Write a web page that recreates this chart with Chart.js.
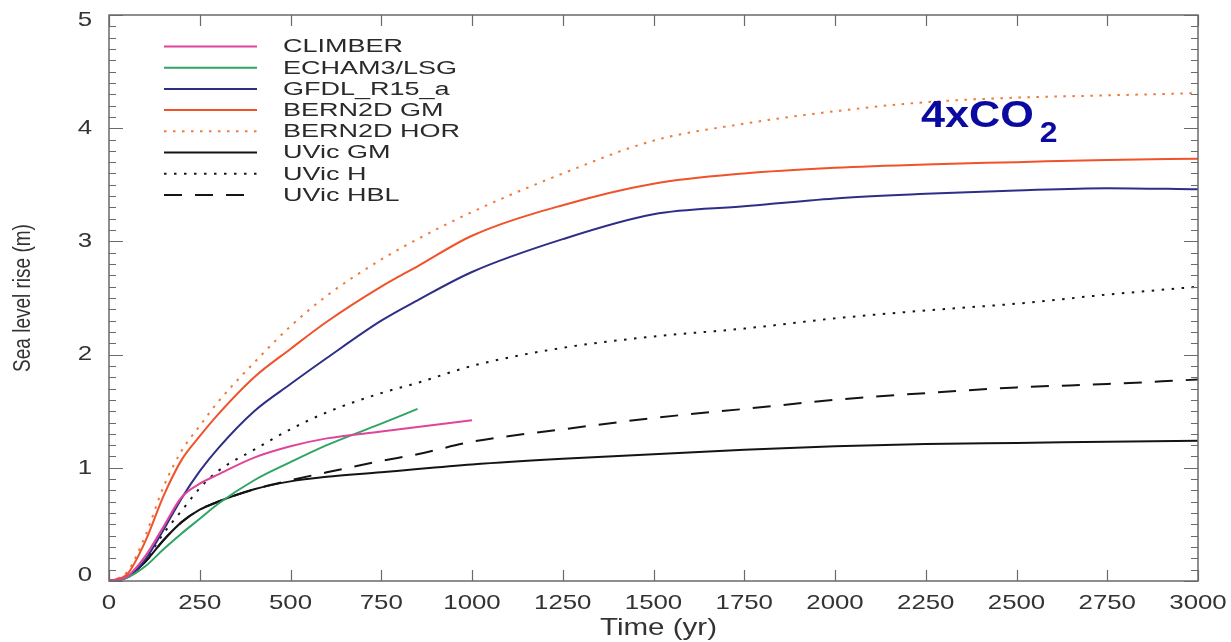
<!DOCTYPE html>
<html>
<head>
<meta charset="utf-8">
<script src="https://cdn.jsdelivr.net/npm/chart.js@4.4.1/dist/chart.umd.min.js"></script>
<style>
html, body { margin: 0; padding: 0; background: #fff; }
#wrap { width: 1231px; height: 642px; }
</style>
</head>
<body>
<div id="wrap"><canvas id="slrChart" width="1231" height="642"></canvas></div>
<script>
// time axis (yr) shared by all runs
const years = [0, 50, 100, 150, 200, 250, 300, 400, 500, 600, 750, 850, 1000, 1250, 1500, 1750, 2000, 2250, 2500, 2750, 3000];

// sea level rise (m) per model
const climber = [0, 0.04, 0.22, 0.48, 0.74, 0.86, 0.94, 1.09, 1.19, 1.26, 1.32, 1.36, 1.42];
const echam = [0, 0.03, 0.13, 0.28, 0.42, 0.55, 0.68, 0.89, 1.05, 1.20, 1.39, 1.52];
const gfdl = [0, 0.03, 0.19, 0.45, 0.73, 0.97, 1.17, 1.50, 1.74, 1.97, 2.30, 2.48, 2.73, 3.02, 3.24, 3.31, 3.38, 3.42, 3.45, 3.47, 3.46];
const bernGM = [0, 0.06, 0.35, 0.75, 1.07, 1.28, 1.47, 1.80, 2.05, 2.29, 2.60, 2.78, 3.05, 3.32, 3.51, 3.60, 3.65, 3.68, 3.70, 3.72, 3.73];
const bernHOR = [0, 0.08, 0.40, 0.83, 1.15, 1.37, 1.58, 1.93, 2.25, 2.52, 2.84, 3.02, 3.26, 3.60, 3.89, 4.04, 4.15, 4.23, 4.27, 4.29, 4.31];
const uvicGM = [0, 0.04, 0.17, 0.36, 0.52, 0.63, 0.70, 0.81, 0.88, 0.92, 0.96, 0.99, 1.03, 1.08, 1.12, 1.16, 1.19, 1.21, 1.22, 1.23, 1.24];
const uvicH = [0, 0.03, 0.18, 0.42, 0.62, 0.82, 0.97, 1.16, 1.34, 1.49, 1.66, 1.75, 1.90, 2.06, 2.16, 2.23, 2.32, 2.39, 2.45, 2.53, 2.60];
const uvicHBL = [0, 0.04, 0.17, 0.36, 0.52, 0.63, 0.70, 0.81, 0.89, 0.96, 1.06, 1.12, 1.23, 1.34, 1.44, 1.52, 1.60, 1.66, 1.71, 1.74, 1.78];

const xTicks = [0, 250, 500, 750, 1000, 1250, 1500, 1750, 2000, 2250, 2500, 2750, 3000];
const yTicks = [0, 1, 2, 3, 4, 5];

const FONT = '"Liberation Sans", Arial, Helvetica, sans-serif';
const TXT = '#333';
// the source figure is stretched sideways, so text is drawn wider than tall
const STRETCH = 1.23;

function pts(vals) {
    return vals.map((v, i) => ({ x: years[i], y: v }));
}

function series(label, vals, color, dash) {
    return {
        label: label,
        data: pts(vals),
        borderColor: color,
        backgroundColor: color,
        borderWidth: 2,
        borderDash: dash,
        pointRadius: 0,
        fill: false,
        cubicInterpolationMode: 'monotone'
    };
}

function wideText(ctx, text, x, y, sx, align) {
    ctx.save();
    ctx.translate(x, y);
    ctx.scale(sx, 1);
    ctx.textAlign = align;
    ctx.fillText(text, 0, 0);
    ctx.restore();
}

// frame with inward ticks on all four sides, axis labels, legend, note
const frameTicks = {
    id: 'frameTicks',
    afterDatasetsDraw(chart) {
        const { ctx, chartArea: a, scales: { x, y } } = chart;
        ctx.save();
        ctx.strokeStyle = '#6a6a6a';
        ctx.lineWidth = 1.5;
        ctx.setLineDash([]);
        ctx.strokeRect(a.left, a.top, a.right - a.left, a.bottom - a.top);
        ctx.lineWidth = 1.2;
        ctx.beginPath();
        for (let i = 0; i <= 50; i++) {
            const py = Math.round(y.getPixelForValue(i / 10)) + 0.5;
            const len = i % 10 === 0 ? 14 : 7;
            ctx.moveTo(a.left, py); ctx.lineTo(a.left + len, py);
            ctx.moveTo(a.right, py); ctx.lineTo(a.right - len, py);
        }
        xTicks.forEach(v => {
            const px = Math.round(x.getPixelForValue(v)) + 0.5;
            ctx.moveTo(px, a.bottom); ctx.lineTo(px, a.bottom - 11);
            ctx.moveTo(px, a.top); ctx.lineTo(px, a.top + 11);
        });
        ctx.stroke();

        // tick labels
        ctx.fillStyle = TXT;
        ctx.font = '21px ' + FONT;
        ctx.textBaseline = 'middle';
        xTicks.forEach(v => {
            wideText(ctx, String(v), x.getPixelForValue(v), a.bottom + 22, STRETCH, 'center');
        });
        yTicks.forEach((v, i) => {
            let py = y.getPixelForValue(v);
            if (i === 0) py -= 6;
            if (i === yTicks.length - 1) py += 5;
            wideText(ctx, String(v), 92, py, STRETCH, 'right');
        });

        // axis titles
        ctx.font = '24px ' + FONT;
        ctx.textBaseline = 'alphabetic';
        wideText(ctx, 'Time (yr)', (a.left + a.right) / 2 + 5, 635, STRETCH, 'center');
        ctx.save();
        ctx.translate(30, (a.top + a.bottom) / 2);
        ctx.scale(STRETCH, 1);
        ctx.rotate(-Math.PI / 2);
        ctx.font = '19px ' + FONT;
        ctx.textAlign = 'center';
        ctx.fillText('Sea level rise (m)', 0, 0);
        ctx.restore();
        ctx.restore();
    },
    afterDraw(chart) {
        const { ctx } = chart;
        // legend in the upper left of the plot
        ctx.save();
        chart.data.datasets.forEach((ds, i) => {
            const ly = 46.5 + i * 21.2;
            ctx.strokeStyle = ds.borderColor;
            ctx.lineWidth = 2;
            ctx.setLineDash(ds.borderDash || []);
            ctx.beginPath();
            ctx.moveTo(164, ly);
            ctx.lineTo(257, ly);
            ctx.stroke();
            ctx.setLineDash([]);
            ctx.fillStyle = '#2a2a2a';
            ctx.font = '18px ' + FONT;
            ctx.textBaseline = 'middle';
            wideText(ctx, ds.label, 283, ly + 1, 1.5, 'left');
        });
        ctx.restore();

        // 4xCO2 label
        ctx.save();
        ctx.fillStyle = '#0a0aa0';
        ctx.textBaseline = 'alphabetic';
        ctx.font = 'bold 36px ' + FONT;
        const w = ctx.measureText('4xCO').width * 1.2;
        wideText(ctx, '4xCO', 921, 127, 1.2, 'left');
        ctx.font = 'bold 29px ' + FONT;
        wideText(ctx, '2', 921 + w + 6, 142, 1.1, 'left');
        ctx.restore();
    }
};

const ctx = document.getElementById('slrChart').getContext('2d');
new Chart(ctx, {
    type: 'line',
    data: {
        datasets: [
            series('CLIMBER', climber, '#e0449a', []),
            series('ECHAM3/LSG', echam, '#2fa463', []),
            series('GFDL_R15_a', gfdl, '#2e2e88', []),
            series('BERN2D GM', bernGM, '#f0522a', []),
            series('BERN2D HOR', bernHOR, '#f07a36', [2.5, 6.5]),
            series('UVic GM', uvicGM, '#141414', []),
            series('UVic H', uvicH, '#141414', [2.5, 7.5]),
            series('UVic HBL', uvicHBL, '#141414', [18, 13])
        ]
    },
    options: {
        responsive: false,
        animation: false,
        devicePixelRatio: 1,
        layout: { padding: { top: 15, right: 33, left: 0, bottom: 0 } },
        plugins: {
            legend: { display: false },
            tooltip: { enabled: false }
        },
        scales: {
            x: {
                type: 'linear',
                min: 0,
                max: 3000,
                afterFit(s) { s.height = 61; s.paddingLeft = 0; s.paddingRight = 0; },
                grid: { display: false, drawTicks: false },
                border: { display: false },
                ticks: { display: false }
            },
            y: {
                type: 'linear',
                min: 0,
                max: 5,
                afterFit(s) { s.width = 109; s.paddingTop = 0; s.paddingBottom = 0; },
                grid: { display: false, drawTicks: false },
                border: { display: false },
                ticks: { display: false }
            }
        }
    },
    plugins: [frameTicks]
});
</script>
</body>
</html>
